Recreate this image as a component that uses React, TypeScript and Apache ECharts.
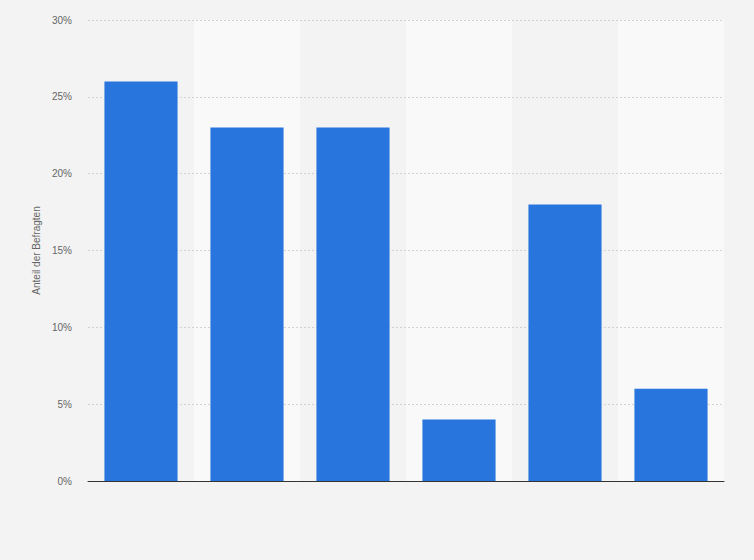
import React, { useRef, useEffect } from 'react';
import * as echarts from 'echarts';

const categories = ['A', 'B', 'C', 'D', 'E', 'F'];
const shares = [26, 23, 23, 4, 18, 6];
const yTicks = [0, 5, 10, 15, 20, 25, 30];

const App = () => {
  const chartRef = useRef(null);

  useEffect(() => {
    const chart = echarts.init(chartRef.current, null, { renderer: 'svg' });

    const option = {
      animation: false,
      backgroundColor: '#f3f3f3',
      grid: { left: 88, right: 30, top: 20, bottom: 79 },
      xAxis: {
        type: 'category',
        data: categories,
        z: 0,
        axisLine: { lineStyle: { color: '#333', width: 1 } },
        axisTick: { show: false },
        axisLabel: { show: false },
        splitArea: { show: true, areaStyle: { color: ['rgba(0,0,0,0)', '#f9f9f9'] } },
      },
      yAxis: {
        type: 'value',
        z: 1,
        min: yTicks[0],
        max: yTicks[yTicks.length - 1],
        interval: 5,
        name: 'Anteil der Befragten',
        nameLocation: 'middle',
        nameGap: 46,
        nameTextStyle: { color: '#666', fontSize: 10, fontFamily: 'Arial, Liberation Sans, sans-serif' },
        axisLine: { show: false },
        axisTick: { show: false },
        axisLabel: {
          color: '#666',
          fontSize: 10,
          margin: 16,
          fontFamily: 'Arial, Liberation Sans, sans-serif',
          formatter: (v: number) => v + '%',
        },
        splitLine: { showMinLine: false, lineStyle: { color: '#d2d2d2', type: [2, 2] } },
      },
      series: [
        {
          type: 'bar',
          data: shares,
          barCategoryGap: '31%',
          itemStyle: { color: '#2876dd' },
        },
      ],
    };

    chart.setOption(option);

    return () => {
      chart.dispose();
    };
  }, []);

  return (
    <div
      ref={chartRef}
      style={{ position: 'absolute', left: 0, top: 0, width: '754px', height: '560px' }}
    />
  );
};

export default App;
